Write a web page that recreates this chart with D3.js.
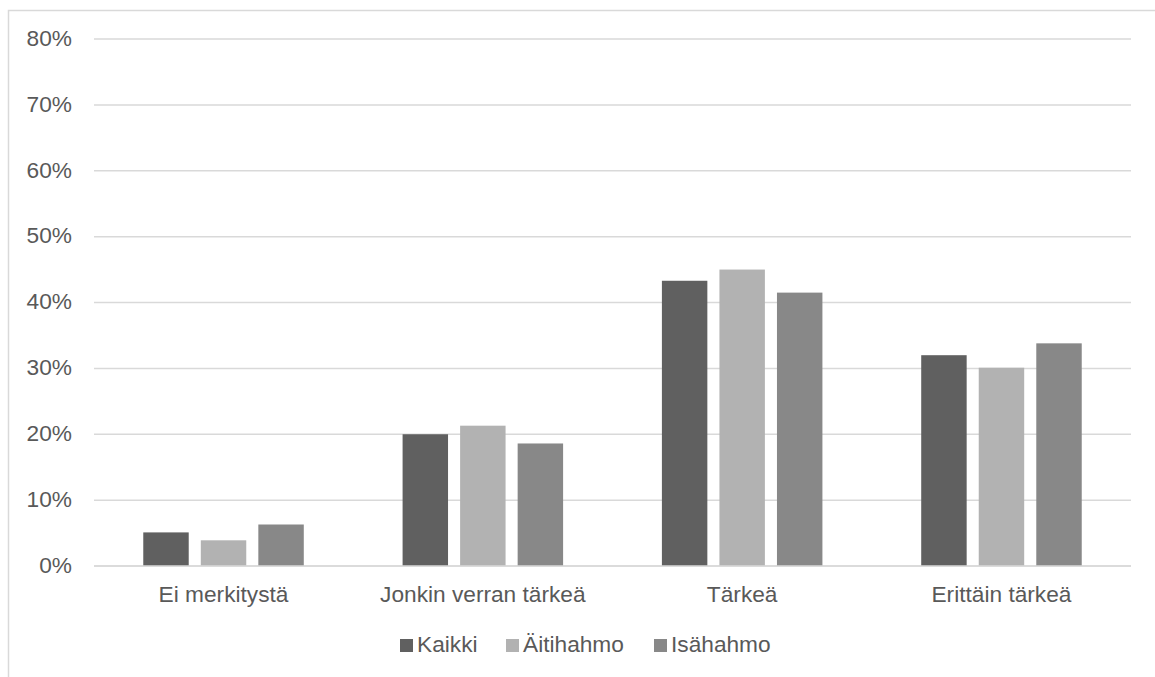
<!DOCTYPE html>
<html>
<head>
<meta charset="utf-8">
<script src="https://cdn.jsdelivr.net/npm/d3@7"></script>
<style>
  body { margin: 0; background: #fff; }
  text { font-family: "Liberation Sans", Arial, sans-serif; fill: #595959; }
</style>
</head>
<body>
<div id="chart"></div>
<script>
const categories = ["Ei merkitystä", "Jonkin verran tärkeä", "Tärkeä", "Erittäin tärkeä"];
const seriesNames = ["Kaikki", "Äitihahmo", "Isähahmo"];
const kaikki = [5.1, 20.0, 43.3, 32.0];
const aitihahmo = [3.9, 21.3, 45.0, 30.1];
const isahahmo = [6.3, 18.6, 41.5, 33.8];
const yTicks = [0, 10, 20, 30, 40, 50, 60, 70, 80];
const colors = ["#606060", "#b2b2b2", "#888888"];

const W = 1155, H = 677;
const margin = { top: 39, right: 24, bottom: 111, left: 94 };
const width = W - margin.left - margin.right;
const height = H - margin.top - margin.bottom;
const fontSize = 22.7;

const svg = d3.select("#chart").append("svg")
  .attr("width", W)
  .attr("height", H);

// chart border
svg.append("rect")
  .attr("x", 8.5).attr("y", 10.5)
  .attr("width", W + 10).attr("height", H + 10)
  .attr("fill", "none")
  .attr("stroke", "#d9d9d9")
  .attr("stroke-width", 1.5);

const g = svg.append("g")
  .attr("transform", `translate(${margin.left},${margin.top})`);

const x0 = d3.scaleBand().domain(categories).range([0, width]).paddingInner(0.381).paddingOuter(0.19);
const x1 = d3.scaleBand().domain(seriesNames).range([0, x0.bandwidth()]).paddingInner(0.21);
const y = d3.scaleLinear().domain([0, 80]).range([height, 0]);

// gridlines
g.selectAll("line.grid")
  .data(yTicks)
  .enter().append("line")
  .attr("class", "grid")
  .attr("x1", 0).attr("x2", width)
  .attr("y1", d => y(d)).attr("y2", d => y(d))
  .attr("stroke", "#d9d9d9")
  .attr("stroke-width", 1.5);

// y labels
g.selectAll("text.ytick")
  .data(yTicks)
  .enter().append("text")
  .attr("class", "ytick")
  .attr("x", -22)
  .attr("y", d => y(d))
  .attr("dy", "0.3em")
  .attr("text-anchor", "end")
  .attr("font-size", fontSize)
  .text(d => d + "%");

const series = [kaikki, aitihahmo, isahahmo];
const rows = [];
series.forEach((vals, si) => {
  vals.forEach((v, ci) => rows.push({ cat: categories[ci], s: seriesNames[si], v: v, color: colors[si] }));
});

g.selectAll("rect.bar")
  .data(rows)
  .enter().append("rect")
  .attr("class", "bar")
  .attr("x", d => x0(d.cat) + x1(d.s))
  .attr("y", d => y(d.v))
  .attr("width", x1.bandwidth())
  .attr("height", d => y(0) - y(d.v))
  .attr("fill", d => d.color);

// x axis line on top of bars
g.append("line")
  .attr("x1", 0).attr("x2", width)
  .attr("y1", y(0)).attr("y2", y(0))
  .attr("stroke", "#d9d9d9")
  .attr("stroke-width", 1.5);

g.selectAll("text.xtick")
  .data(categories)
  .enter().append("text")
  .attr("class", "xtick")
  .attr("x", d => x0(d) + x0.bandwidth() / 2)
  .attr("y", height + 36)
  .attr("text-anchor", "middle")
  .attr("font-size", fontSize)
  .text(d => d);

// legend
const legendItems = [
  { name: "Kaikki", x: 400 },
  { name: "Äitihahmo", x: 506 },
  { name: "Isähahmo", x: 654 }
];
const legend = svg.append("g");
legendItems.forEach((d, i) => {
  legend.append("rect")
    .attr("x", d.x).attr("y", 639)
    .attr("width", 13).attr("height", 13)
    .attr("fill", colors[i]);
  legend.append("text")
    .attr("x", d.x + 17).attr("y", 652)
    .attr("font-size", fontSize)
    .text(d.name);
});
</script>
</body>
</html>
